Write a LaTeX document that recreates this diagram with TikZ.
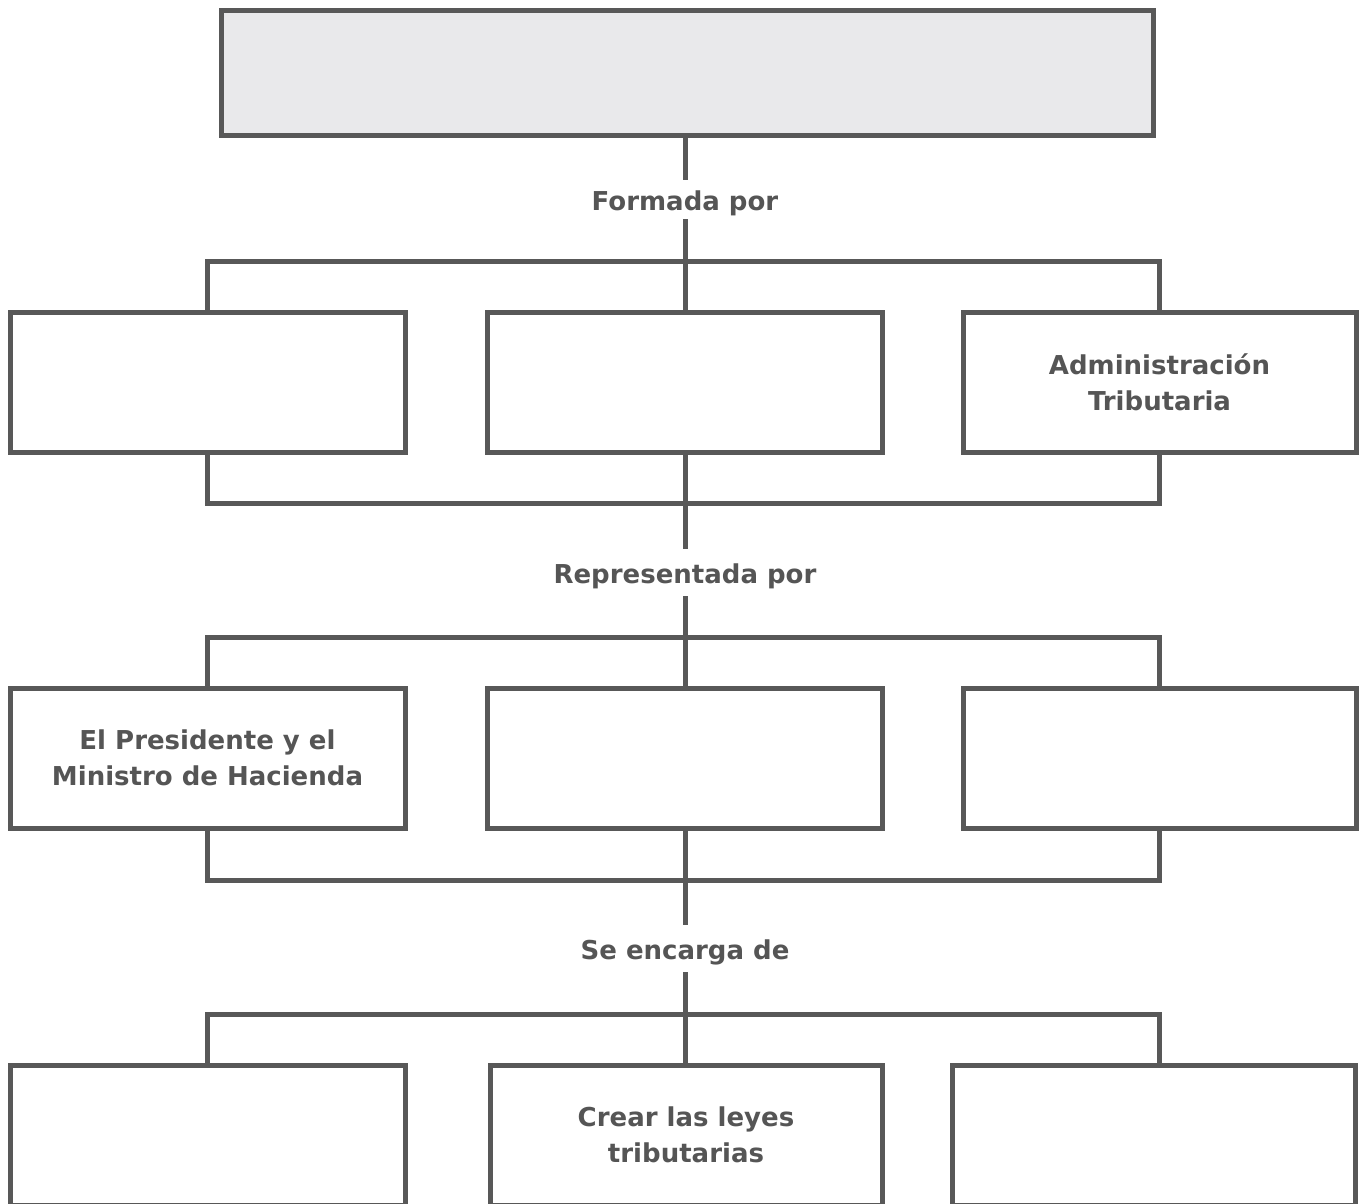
\documentclass[tikz,border=0pt]{standalone}
\usepackage{fontspec}
\setmainfont{DejaVu Sans}
\usetikzlibrary{positioning}
\definecolor{linegray}{HTML}{585858}
\definecolor{textgray}{HTML}{555555}
\definecolor{topfill}{HTML}{E9E9EB}

\begin{document}
\begin{tikzpicture}[x=1pt, y=-1pt,
    box/.style={rectangle, draw=linegray, line width=5pt, fill=white, minimum width=395pt, minimum height=140pt, inner sep=0pt, align=center, text=textgray, font=\fontsize{26}{36}\selectfont\bfseries},
    link/.style={rectangle, inner sep=0pt, minimum height=47pt, text height=24pt, text depth=2pt, text=textgray, font=\fontsize{26}{36}\selectfont\bfseries},
    conn/.style={draw=linegray, line width=5pt}
]
    \useasboundingbox (0,0) rectangle (1361,1203);

    % Top box
    \node[box, fill=topfill, minimum width=932pt, minimum height=125pt] (top) at (687.5,73) {};

    % Labels between the rows
    \node[link, minimum height=39pt] (formada) at (685,199.5) {Formada por};
    \node[link] (representada) at (685,572.5) {Representada por};
    \node[link] (encarga) at (685,948.5) {Se encarga de};

    % First row
    \node[box] (f1) at (207.5,382) {};
    \node[box] (f2) at (684.5,382) {};
    \node[box, minimum width=393pt] (f3) at (1159.5,382) {Administración\\Tributaria};

    % Second row
    \node[box] (g1) at (207.5,758) {El Presidente y el\\Ministro de Hacienda};
    \node[box] (g2) at (684.5,758) {};
    \node[box, minimum width=393pt] (g3) at (1159.5,758) {};

    % Third row
    \node[box] (h1) at (207.5,1135) {};
    \node[box, minimum width=392pt] (h2) at (686,1135) {Crear las leyes\\tributarias};
    \node[box, minimum width=403pt] (h3) at (1153.5,1135) {};

    % Bus points
    \coordinate (busA) at (685,261);
    \coordinate (busB) at (685,503);
    \coordinate (busC) at (685,637);
    \coordinate (busD) at (685,880);
    \coordinate (busE) at (685,1014);

    % Connections
    \draw[conn] (top.south -| formada.north) -- (formada.north);
    \draw[conn] (formada.south) -- (f2.north -| formada.south);
    \draw[conn] (f1.north) |- (busA) -| (f3.north);

    \draw[conn] (f1.south) |- (busB) -| (f3.south);
    \draw[conn] (f2.south -| representada.north) -- (representada.north);
    \draw[conn] (representada.south) -- (g2.north -| representada.south);
    \draw[conn] (g1.north) |- (busC) -| (g3.north);

    \draw[conn] (g1.south) |- (busD) -| (g3.south);
    \draw[conn] (g2.south -| encarga.north) -- (encarga.north);
    \draw[conn] (encarga.south) -- (h2.north -| encarga.south);
    \draw[conn] (h1.north) |- (busE) -| (h3.north -| g3.north);
\end{tikzpicture}
\end{document}
